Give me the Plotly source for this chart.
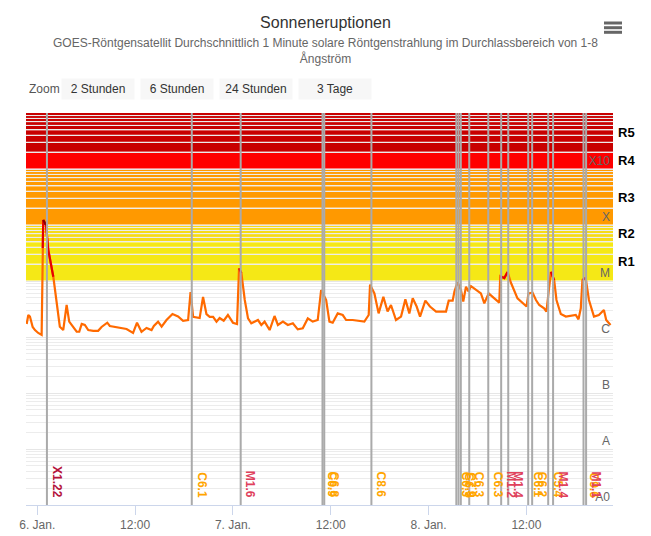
import numpy as np
import pandas as pd
import plotly.graph_objects as go

# GOES 1-8 A Fluss (W/m2)
times = [
  "2025-01-05 22:42", "2025-01-05 22:54", "2025-01-05 23:06", "2025-01-05 23:26", "2025-01-05 23:43",
  "2025-01-06 00:07", "2025-01-06 00:32", "2025-01-06 00:40", "2025-01-06 00:44", "2025-01-06 01:04",
  "2025-01-06 01:21", "2025-01-06 01:58", "2025-01-06 02:22", "2025-01-06 02:46", "2025-01-06 03:11",
  "2025-01-06 03:36", "2025-01-06 03:55", "2025-01-06 04:25", "2025-01-06 04:50", "2025-01-06 05:09",
  "2025-01-06 05:27", "2025-01-06 05:50", "2025-01-06 06:15", "2025-01-06 06:52", "2025-01-06 07:28",
  "2025-01-06 07:53", "2025-01-06 08:35", "2025-01-06 08:54", "2025-01-06 09:31", "2025-01-06 10:08",
  "2025-01-06 10:57", "2025-01-06 11:45", "2025-01-06 12:14", "2025-01-06 12:47", "2025-01-06 13:24",
  "2025-01-06 14:01", "2025-01-06 14:18", "2025-01-06 14:49", "2025-01-06 15:15", "2025-01-06 15:51",
  "2025-01-06 16:35", "2025-01-06 17:16", "2025-01-06 17:53", "2025-01-06 18:30", "2025-01-06 18:48",
  "2025-01-06 19:07", "2025-01-06 19:55", "2025-01-06 20:20", "2025-01-06 20:45", "2025-01-06 21:09",
  "2025-01-06 21:34", "2025-01-06 21:59", "2025-01-06 22:22", "2025-01-06 22:52", "2025-01-06 23:23",
  "2025-01-07 00:00", "2025-01-07 00:30", "2025-01-07 00:45", "2025-01-07 01:02", "2025-01-07 01:27",
  "2025-01-07 01:51", "2025-01-07 02:15", "2025-01-07 03:04", "2025-01-07 03:29", "2025-01-07 03:53",
  "2025-01-07 04:30", "2025-01-07 05:06", "2025-01-07 05:31", "2025-01-07 06:08", "2025-01-07 06:44",
  "2025-01-07 07:21", "2025-01-07 07:57", "2025-01-07 08:34", "2025-01-07 09:11", "2025-01-07 09:47",
  "2025-01-07 10:24", "2025-01-07 10:49", "2025-01-07 11:26", "2025-01-07 11:50", "2025-01-07 12:14",
  "2025-01-07 12:51", "2025-01-07 13:28", "2025-01-07 13:53", "2025-01-07 14:41", "2025-01-07 15:30",
  "2025-01-07 16:07", "2025-01-07 16:39", "2025-01-07 16:49", "2025-01-07 17:21", "2025-01-07 17:52",
  "2025-01-07 18:27", "2025-01-07 18:58", "2025-01-07 19:23", "2025-01-07 20:00", "2025-01-07 20:37",
  "2025-01-07 21:09", "2025-01-07 21:38", "2025-01-07 22:03", "2025-01-07 22:32", "2025-01-07 22:57",
  "2025-01-07 23:36", "2025-01-08 00:10", "2025-01-08 00:55", "2025-01-08 01:43", "2025-01-08 02:08",
  "2025-01-08 02:28", "2025-01-08 02:57", "2025-01-08 03:10", "2025-01-08 03:33", "2025-01-08 03:58",
  "2025-01-08 04:15", "2025-01-08 04:35", "2025-01-08 04:54", "2025-01-08 05:12", "2025-01-08 05:49",
  "2025-01-08 06:25", "2025-01-08 06:50", "2025-01-08 07:22", "2025-01-08 07:51", "2025-01-08 08:15",
  "2025-01-08 08:40", "2025-01-08 08:47", "2025-01-08 09:17", "2025-01-08 09:41", "2025-01-08 10:06",
  "2025-01-08 10:54", "2025-01-08 11:43", "2025-01-08 12:01", "2025-01-08 12:15", "2025-01-08 12:45",
  "2025-01-08 13:10", "2025-01-08 13:34", "2025-01-08 14:10", "2025-01-08 14:27", "2025-01-08 15:00",
  "2025-01-08 15:24", "2025-01-08 15:41", "2025-01-08 16:13", "2025-01-08 16:50", "2025-01-08 17:26",
  "2025-01-08 18:03", "2025-01-08 18:23", "2025-01-08 18:40", "2025-01-08 18:52", "2025-01-08 19:16",
  "2025-01-08 19:40", "2025-01-08 20:17", "2025-01-08 20:53", "2025-01-08 21:30", "2025-01-08 21:47",
  "2025-01-08 22:19",
]
flux = [
  1.71e-6, 2.47e-6, 2.32e-6, 1.51e-6, 1.33e-6,
  1.18e-6, 1.09e-6, 3.9e-5, 1.23e-4, 1.0e-4,
  3.6e-5, 1.19e-5, 4.6e-6, 1.53e-6, 1.33e-6,
  3.73e-6, 1.88e-6, 1.53e-6, 1.24e-6, 1.24e-6,
  1.71e-6, 1.64e-6, 1.33e-6, 1.29e-6, 1.29e-6,
  1.51e-6, 1.80e-6, 1.57e-6, 1.51e-6, 1.45e-6,
  1.39e-6, 1.18e-6, 1.80e-6, 1.24e-6, 1.45e-6,
  1.33e-6, 1.57e-6, 1.88e-6, 1.53e-6, 2.01e-6,
  2.57e-6, 2.32e-6, 1.95e-6, 2.01e-6, 6.36e-6,
  2.29e-6, 2.18e-6, 5.2e-6, 2.57e-6, 2.29e-6,
  2.29e-6, 1.88e-6, 2.18e-6, 1.95e-6, 2.47e-6,
  1.80e-6, 1.71e-6, 1.68e-5, 1.39e-5, 4.58e-6,
  2.15e-6, 1.76e-6, 2.01e-6, 1.64e-6, 1.88e-6,
  1.33e-6, 2.37e-6, 1.64e-6, 1.88e-6, 1.64e-6,
  1.76e-6, 1.37e-6, 1.43e-6, 2.15e-6, 1.88e-6,
  2.01e-6, 6.9e-6, 4.58e-6, 1.88e-6, 1.80e-6,
  2.64e-6, 2.47e-6, 2.01e-6, 2.01e-6, 1.95e-6,
  1.88e-6, 2.47e-6, 8.6e-6, 6.0e-6, 2.64e-6,
  5.2e-6, 2.85e-6, 3.73e-6, 2.01e-6, 2.32e-6,
  4.7e-6, 2.64e-6, 4.9e-6, 3.5e-6, 2.32e-6,
  4.46e-6, 3.5e-6, 2.85e-6, 2.85e-6, 2.85e-6,
  4.46e-6, 4.46e-6, 6.5e-6, 9.5e-6, 6.9e-6,
  4.3e-6, 7.9e-6, 6.5e-6, 8.1e-6, 6.9e-6,
  6.0e-6, 4.0e-6, 6.0e-6, 5.2e-6, 4.7e-6,
  4.1e-6, 1.22e-5, 1.13e-5, 1.45e-5, 9.3e-6,
  4.9e-6, 3.73e-6, 3.5e-6, 6.0e-6, 6.2e-6,
  4.58e-6, 3.73e-6, 3.25e-6, 2.85e-6, 1.45e-5,
  1.04e-5, 4.58e-6, 2.57e-6, 2.32e-6, 2.37e-6,
  2.47e-6, 2.07e-6, 3.25e-6, 1.04e-5, 1.13e-5,
  4.58e-6, 2.32e-6, 2.47e-6, 3.03e-6, 2.01e-6,
  1.64e-6,
]

# Flare-Ereignisse (senkrechte Linien)
ev_time = [
  "2025-01-06 01:11", "2025-01-06 18:57", "2025-01-07 00:57", "2025-01-07 10:59", "2025-01-07 11:12",
  "2025-01-07 16:59", "2025-01-08 03:24", "2025-01-08 03:40", "2025-01-08 03:57", "2025-01-08 04:59",
  "2025-01-08 07:19", "2025-01-08 08:54", "2025-01-08 09:46", "2025-01-08 12:13", "2025-01-08 12:42",
  "2025-01-08 14:40", "2025-01-08 15:16", "2025-01-08 19:00", "2025-01-08 19:19",
]
ev_class = [
  "X1.22", "C6.1", "M1.6", "C6.9", "C6.8",
  "C8.6", "C6.3", "C6.5", "C7.9", "C6.3",
  "C6.3", "M1.2", "M1.4", "C6.1", "C6.2",
  "C5.4", "M1.4", "C9.6", "M1.1",
]

# R-Skala (Funkausfall)
r_names = ["R1", "R2", "R3", "R4", "R5"]
r_low = [1e-5, 5e-5, 1e-4, 1e-3, 2e-3]
r_high = [5e-5, 1e-4, 1e-3, 2e-3, 1e-2]
r_colors = ["#f5e816", "#f6db16", "#ff9900", "#ff0000", "#c80000"]

# Klassen-Achse
cls_vals = [1e-9, 1e-8, 1e-7, 1e-6, 1e-5, 1e-4, 1e-3]
cls_text = ["A0", "A", "B", "C", "M", "X", "X10"]

xtick_vals = ["2025-01-06 00:00", "2025-01-06 12:00", "2025-01-07 00:00",
              "2025-01-07 12:00", "2025-01-08 00:00", "2025-01-08 12:00"]
xtick_text = ["6. Jan.", "12:00", "7. Jan.", "12:00", "8. Jan.", "12:00"]

zoom_buttons = ["2 Stunden", "6 Stunden", "24 Stunden", "3 Tage"]

# die Seite hat 8px Rand (body margin), daher Figur etwas kleiner
OFF = 8
W, H = 651 - OFF, 536 - OFF
ML, MR, MT, MB = 26 - OFF, 38, 113 - OFF, 31
FONT = "Liberation Sans, Arial, sans-serif"

def px_x(px):
  return (px - OFF - ML) / (W - ML - MR)

def px_y(py):
  return (H - MB - (py - OFF)) / (H - MT - MB)

def ev_color(c):
  if c.startswith("X"):
    return "#b5123a"
  if c.startswith("M"):
    return "#e0415c"
  return "#ffa500"

# kleine Gitterlinien (2..9 pro Dekade)
minor_vals = [m * 10.0 ** e for e in range(-9, -2) for m in range(2, 10)]

fl = np.array(flux)
red = [v if v >= r_low[0] else None for v in fl]
dark = [v if v >= r_low[2] else None for v in fl]

fig = go.Figure()
fig.add_trace(go.Scatter(x=times, y=flux, mode="lines", line=dict(color="#ff6a00", width=2.2),
                         showlegend=False, hoverinfo="skip"))
fig.add_trace(go.Scatter(x=times, y=red, mode="lines", line=dict(color="#e60000", width=2.2),
                         showlegend=False, hoverinfo="skip", connectgaps=False))
fig.add_trace(go.Scatter(x=times, y=dark, mode="lines", line=dict(color="#8b0000", width=2.2),
                         showlegend=False, hoverinfo="skip", connectgaps=False))

shapes = []
for lo, hi, col in zip(r_low, r_high, r_colors):
  shapes.append(dict(type="rect", xref="paper", x0=0, x1=1, yref="y", y0=lo, y1=hi,
                     fillcolor=col, line_width=0, layer="between"))
# weisse Gitterlinien ueber den Baendern
for v in minor_vals + cls_vals:
  if v >= r_low[0]:
    shapes.append(dict(type="line", xref="paper", x0=0, x1=1, yref="y", y0=v, y1=v,
                       line=dict(color="white", width=1), layer="between"))
for t in ev_time:
  shapes.append(dict(type="line", xref="x", x0=t, x1=t, yref="paper", y0=0, y1=1,
                     line=dict(color="#aaaaaa", width=2), layer="above"))
# Menue-Symbol
for py in [23, 27.7, 32.3]:
  shapes.append(dict(type="line", xref="paper", yref="paper", x0=px_x(604), x1=px_x(622),
                     y0=px_y(py), y1=px_y(py), line=dict(color="#666666", width=3)))

ann = []
ann.append(dict(xref="paper", yref="paper", x=px_x(325.5), y=px_y(51.5), showarrow=False,
                text="GOES-Röntgensatellit Durchschnittlich 1 Minute solare Röntgenstrahlung im Durchlassbereich von 1-8<br>Ångström",
                font=dict(size=12, color="#666666", family=FONT), xanchor="center", yanchor="middle"))
ann.append(dict(xref="paper", yref="paper", x=px_x(27), y=px_y(89), showarrow=False, text="Zoom",
                font=dict(size=12, color="#555555", family=FONT), xanchor="left", yanchor="middle"))
for i, b in enumerate(zoom_buttons):
  cx = 98 + i * 79
  ann.append(dict(xref="paper", yref="paper", x=px_x(cx), y=px_y(89), showarrow=False, text=b,
                  width=72, height=20, bgcolor="#f7f7f7", borderpad=0,
                  font=dict(size=12, color="#333333", family=FONT), xanchor="center", yanchor="middle"))
for name, lo, hi in zip(r_names, r_low, r_high):
  ann.append(dict(xref="paper", x=1, xanchor="left", xshift=3, yref="y",
                  y=(np.log10(lo) + np.log10(hi)) / 2, showarrow=False, text="<b>%s</b>" % name,
                  font=dict(size=13, color="#000000", family=FONT), yanchor="middle"))
for t, c in zip(ev_time, ev_class):
  ann.append(dict(xref="x", x=t, yref="paper", y=0, showarrow=False, text="<b>%s</b>" % c,
                  textangle=90, xanchor="left", yanchor="bottom", xshift=1, yshift=5,
                  font=dict(size=12, color=ev_color(c), family=FONT)))

fig.update_layout(
  width=W, height=H,
  margin=dict(l=ML, r=MR, t=MT, b=MB, autoexpand=False),
  paper_bgcolor="white", plot_bgcolor="white",
  font=dict(family=FONT),
  title=dict(text="Sonneneruptionen", x=px_x(325.5), xanchor="center", xref="paper",
             y=1 - (22 - OFF) / H, yanchor="middle", yref="container",
             font=dict(size=16, color="#333333", family=FONT)),
  shapes=shapes, annotations=ann, showlegend=False,
)
fig.update_xaxes(type="date", range=["2025-01-05 22:37", "2025-01-08 22:37"], automargin=False,
                 tickvals=xtick_vals, ticktext=xtick_text, ticks="outside", ticklen=9,
                 tickcolor="#ccd6eb", showline=True, linecolor="#ccd6eb", linewidth=1,
                 showgrid=False, zeroline=False, tickfont=dict(size=12, color="#666666"))
fig.update_yaxes(type="log", range=[-9, -2], side="right", tickvals=cls_vals, ticktext=cls_text,
                 automargin=False,
                 ticklabelposition="inside top", tickfont=dict(size=12, color="#666666"),
                 showgrid=True, gridcolor="#e6e6e6", gridwidth=1, zeroline=False, showline=False,
                 ticks="", minor=dict(tickvals=minor_vals, showgrid=True, gridcolor="#ececec", ticks=""))

fig.write_html("out.html", config={"displayModeBar": False})
